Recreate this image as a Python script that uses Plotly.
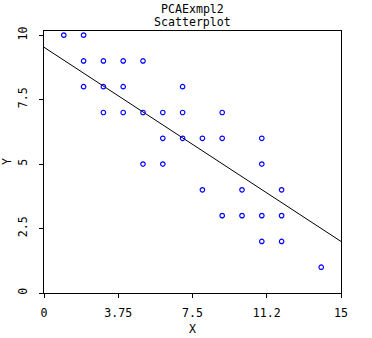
import plotly.graph_objects as go

# Observations (X, Y)
x_vals = [1, 2,
          2, 3, 4, 5,
          2, 3, 4, 7,
          3, 4, 5, 6, 7, 9,
          6, 7, 8, 9, 11,
          5, 6, 11,
          8, 10, 12,
          9, 10, 11, 12,
          11, 12,
          14]
y_vals = [10, 10,
          9, 9, 9, 9,
          8, 8, 8, 8,
          7, 7, 7, 7, 7, 7,
          6, 6, 6, 6, 6,
          5, 5, 5,
          4, 4, 4,
          3, 3, 3, 3,
          2, 2,
          1]

# Fitted line across the X range
line_x = [0, 15]
line_y = [9.53, 2.0]

x_ticks = [0, 3.75, 7.5, 11.25, 15]
x_tick_labels = ["0", "3.75", "7.5", "11.2", "15"]
y_ticks = [0, 2.5, 5, 7.5, 10]
y_tick_labels = ["0", "2.5", "5", "7.5", "10"]

FONT = "DejaVu Sans Mono"
FS = 11.6

fig = go.Figure()
fig.add_trace(go.Scatter(
    x=line_x, y=line_y, mode="lines",
    line=dict(color="black", width=1), hoverinfo="skip", showlegend=False))
fig.add_trace(go.Scatter(
    x=x_vals, y=y_vals, mode="markers",
    marker=dict(symbol="circle-open", size=4.5, color="#0000ff",
                line=dict(width=1.2, color="#0000ff")),
    showlegend=False))

axis_common = dict(
    showgrid=False, zeroline=False, showline=True, linecolor="black",
    linewidth=1, mirror=True, ticks="outside", ticklen=4, tickwidth=1,
    tickcolor="black", tickfont=dict(family=FONT, size=FS, color="black"))

fig.update_xaxes(range=[0, 15], tickmode="array", tickvals=x_ticks,
                 ticktext=x_tick_labels, ticklabelstandoff=5, **axis_common)
fig.update_yaxes(range=[0, 10.16], tickmode="array", tickvals=y_ticks,
                 ticktext=y_tick_labels, tickangle=-90, ticklabelstandoff=7,
                 **axis_common)

txt_font = dict(family=FONT, size=FS, color="black")
fig.add_annotation(text="PCAExmpl2", xref="paper", yref="paper", x=0.5, y=1,
                   xanchor="center", yanchor="middle", yshift=22,
                   showarrow=False, font=txt_font)
fig.add_annotation(text="Scatterplot", xref="paper", yref="paper", x=0.5, y=1,
                   xanchor="center", yanchor="middle", yshift=9,
                   showarrow=False, font=txt_font)
fig.add_annotation(text="X", xref="paper", yref="paper", x=0.5, y=0,
                   xanchor="center", yanchor="middle", yshift=-36,
                   showarrow=False, font=txt_font)
fig.add_annotation(text="Y", xref="paper", yref="paper", x=0, y=0.5,
                   xanchor="center", yanchor="middle", xshift=-37,
                   textangle=-90, showarrow=False, font=txt_font)

fig.update_layout(
    width=372, height=338,
    margin=dict(l=44, r=31, t=31, b=45),
    paper_bgcolor="white", plot_bgcolor="white",
    showlegend=False)

fig.write_html("out.html")
